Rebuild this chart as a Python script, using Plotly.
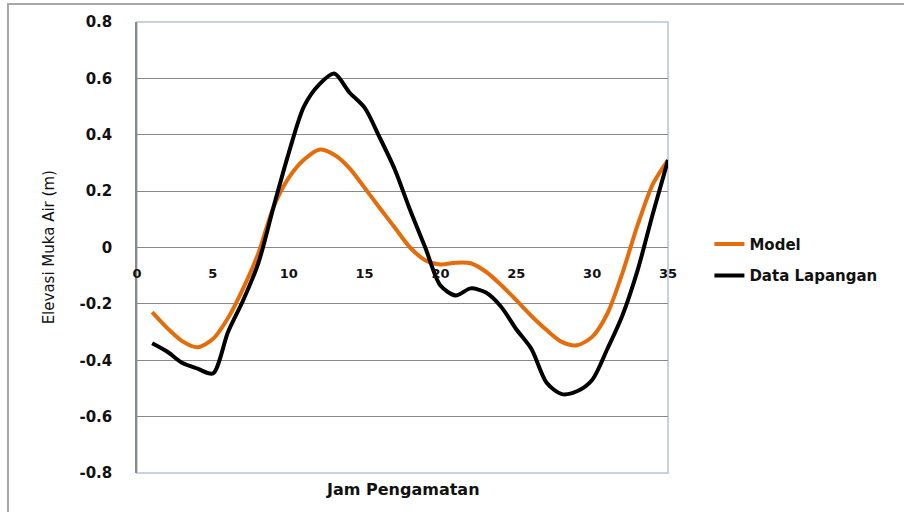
import plotly.graph_objects as go

hours = list(range(1, 36))
model = [-0.229, -0.286, -0.333, -0.354, -0.325, -0.25, -0.145, -0.02, 0.144, 0.247,
         0.311, 0.347, 0.329, 0.282, 0.212, 0.14, 0.07, 0.0, -0.045, -0.06,
         -0.054, -0.056, -0.086, -0.133, -0.187, -0.243, -0.293, -0.335, -0.347, -0.317,
         -0.235, -0.09, 0.08, 0.225, 0.31]
data_lap = [-0.34, -0.37, -0.41, -0.43, -0.447, -0.30, -0.187, -0.055, 0.144, 0.335,
            0.50, 0.578, 0.617, 0.55, 0.496, 0.39, 0.276, 0.133, 0.0, -0.135,
            -0.17, -0.145, -0.16, -0.21, -0.29, -0.36, -0.48, -0.52, -0.51, -0.47,
            -0.36, -0.24, -0.08, 0.12, 0.31]

x_ticks = [0, 5, 10, 15, 20, 25, 30, 35]
y_ticks = [-0.8, -0.6, -0.4, -0.2, 0, 0.2, 0.4, 0.6, 0.8]
y_labels = ["-0.8", "-0.6", "-0.4", "-0.2", "0", "0.2", "0.4", "0.6", "0.8"]

FONT = "DejaVu Sans"

fig = go.Figure()
fig.add_trace(go.Scatter(x=hours, y=model, mode="lines", name="Model",
                         line=dict(color="#E46C0A", width=4, shape="spline", smoothing=0.8),
                         legendgroup="a"))
fig.add_trace(go.Scatter(x=hours, y=data_lap, mode="lines", name="Data Lapangan",
                         line=dict(color="#000000", width=4, shape="spline", smoothing=0.8),
                         legendgroup="b"))

fig.update_layout(
    width=904, height=512,
    margin=dict(l=137, r=236, t=22, b=39),
    paper_bgcolor="white", plot_bgcolor="white",
    showlegend=True,
    legend=dict(x=1.078, y=0.544, xanchor="left", yanchor="top",
                font=dict(family=FONT, size=15, color="#111111", weight="bold"),
                tracegroupgap=9, bgcolor="rgba(0,0,0,0)"),
    xaxis=dict(range=[0, 35], tickvals=x_ticks, anchor="free", position=0.5,
               showgrid=False, zeroline=False, showline=False, ticks="",
               ticklabelstandoff=16,
               tickfont=dict(family=FONT, size=13, color="#111111", weight="bold")),
    yaxis=dict(range=[-0.8, 0.8], tickvals=y_ticks, ticktext=y_labels,
               showgrid=True, gridcolor="#888888", gridwidth=1,
               zeroline=True, zerolinecolor="#888888", zerolinewidth=1,
               showline=True, linecolor="#8a8a8a", linewidth=1.5, ticks="",
               ticklabelstandoff=20,
               tickfont=dict(family=FONT, size=15, color="#111111", weight="bold")),
    shapes=[
        dict(type="rect", xref="paper", yref="paper", x0=0, x1=1, y0=0, y1=1,
             line=dict(color="#B7C5D6", width=1.5), layer="between"),
        dict(type="rect", xref="paper", yref="paper", x0=-0.243, x1=1.6, y0=-0.3, y1=1.04,
             line=dict(color="#A8A8A8", width=2), layer="below"),
    ],
    annotations=[
        dict(text="Jam Pengamatan", xref="paper", yref="paper", x=0.5, y=-0.012,
             xanchor="center", yanchor="top", showarrow=False,
             font=dict(family=FONT, size=16, color="#111111", weight="bold")),
        dict(text="Elevasi Muka Air (m)", xref="paper", yref="paper", x=-0.166, y=0.5,
             xanchor="center", yanchor="middle", showarrow=False, textangle=-90,
             font=dict(family=FONT, size=15, color="#111111")),
    ],
)

fig.write_html("out.html", config={"displayModeBar": False},
               post_script="document.body.style.margin='0';")
